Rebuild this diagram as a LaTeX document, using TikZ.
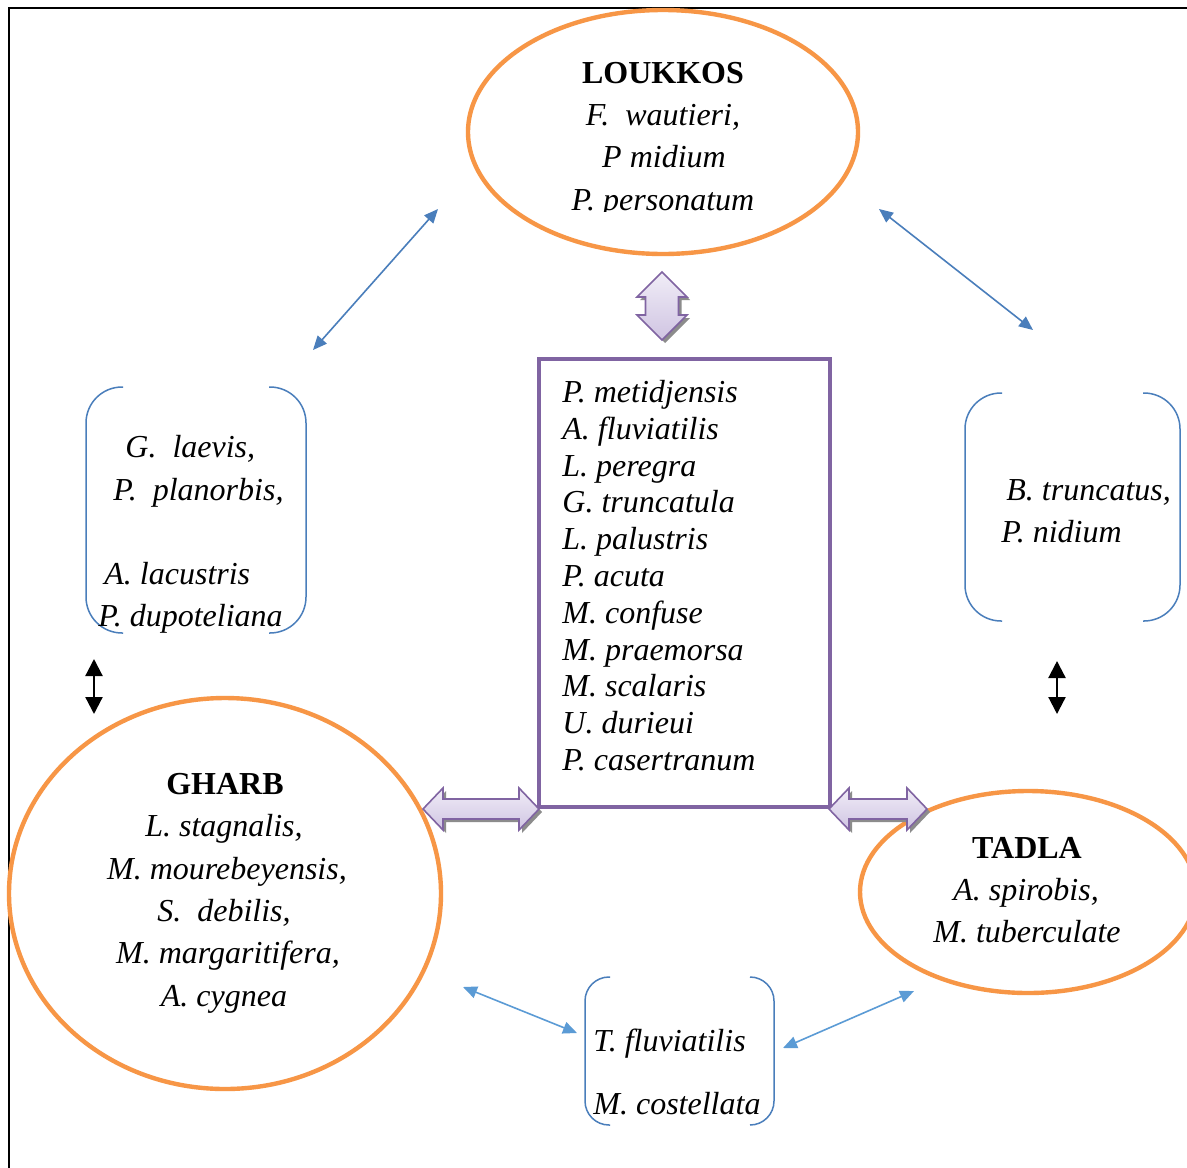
\documentclass[tikz,border=0pt]{standalone}
\usepackage{fontspec}
\setmainfont{Liberation Serif}
\usetikzlibrary{shapes.geometric,arrows.meta}
\definecolor{orng}{HTML}{F79646}
\definecolor{purp}{HTML}{8064A2}
\definecolor{lavA}{HTML}{F1EDF7}
\definecolor{lavB}{HTML}{CFC4E2}
\definecolor{blu}{HTML}{4A7EBB}
\definecolor{bluL}{HTML}{5B9BD5}
\begin{document}
\begin{tikzpicture}[x=0.5pt,y=-0.5pt,
  region/.style={ellipse,draw=orng,line width=2.2pt,inner sep=0pt},
  sp/.style={font=\frenchspacing\fontsize{16}{18.4}\selectfont\itshape,inner sep=0pt},
  ttl/.style={font=\fontsize{16}{18.4}\selectfont\bfseries,inner sep=0pt},
  brk/.style={draw=blu,line width=0.75pt},
  link/.style={draw=blu,line width=0.8pt,{Triangle[length=7pt,width=6pt]}-{Triangle[length=7pt,width=6pt]}},
  linkL/.style={draw=bluL,line width=0.8pt,{Triangle[length=7pt,width=6pt]}-{Triangle[length=7pt,width=6pt]}},
  blk/.style={draw=black,line width=1.1pt,{Triangle[length=8.5pt,width=8.5pt]}-{Triangle[length=8.5pt,width=8.5pt]}},
  barrow/.style={draw=purp,line width=0.8pt,top color=lavA,bottom color=lavB},
  bshadow/.style={fill=black!45,draw=none}
]
\useasboundingbox (0,0) rectangle (1187,1167);
\clip (0,0) rectangle (1187,1167);
\fill[white] (0,0) rectangle (1187,1167);

% frame
\draw[line width=1pt] (9,1170) -- (9,8) -- (1190,8);

% regions
\node[region,minimum width=195pt,minimum height=122pt] (lou) at (663,132) {};
\node[region,minimum width=216pt,minimum height=195.5pt] (gha) at (225,893.5) {};
\node[region,minimum width=168pt,minimum height=101pt] (tad) at (1028,892) {};

% LOUKKOS text
\node[ttl,anchor=base] (louT) at (663,83) {LOUKKOS};
\node[sp,anchor=base] (lou1) at (663,125) {F.\ \ wautieri,};
\node[sp,anchor=base] (lou2) at (664,167) {P midium};
\begin{scope}
\clip (400,0) rectangle (900,211.5);
\node[sp,anchor=base] (lou3) at (663,210) {P. personatum};
\end{scope}

% GHARB text
\node[ttl,anchor=base] (ghaT) at (225,794) {GHARB};
\node[sp,anchor=base] (gha1) at (224,836) {L. stagnalis,};
\node[sp,anchor=base] (gha2) at (227,879) {M. mourebeyensis,};
\node[sp,anchor=base] (gha3) at (224,921) {S.\ \ debilis,};
\node[sp,anchor=base] (gha4) at (228,963) {M. margaritifera,};
\node[sp,anchor=base] (gha5) at (224,1006) {A. cygnea};

% TADLA text
\node[ttl,anchor=base] (tadT) at (1027,858) {TADLA};
\node[sp,anchor=base] (tad1) at (1026,900) {A. spirobis,};
\node[sp,anchor=base] (tad2) at (1027,942) {M. tuberculate};

% central box
\node[draw=purp,line width=2pt,minimum width=145.5pt,minimum height=224pt,inner sep=0pt] (mid) at (684.5,583) {};
\foreach \t [count=\i from 0] in {P. metidjensis,A. fluviatilis,L. peregra,G. truncatula,L. palustris,P. acuta,M. confuse,M. praemorsa,M. scalaris,U. durieui,P. casertranum}
  \node[sp,anchor=base west] (mid\i) at (562,{402.5+36.8*\i}) {\t};

% left bracket box
\draw[brk,rounded corners=18pt] (123,387) -- (86,387) -- (86,633) -- (123,633);
\draw[brk,rounded corners=18pt] (269,387) -- (306,387) -- (306,633) -- (269,633);
\node[sp,anchor=base west] (lb1) at (125,457) {G.\ \ laevis,};
\node[sp,anchor=base west] (lb2) at (113,500) {P.\ \ planorbis,};
\node[sp,anchor=base west] (lb3) at (104,584) {A. lacustris};
\node[sp,anchor=base west] (lb4) at (98,626) {P. dupoteliana};

% right bracket box
\draw[brk,rounded corners=18pt] (1002,393) -- (965,393) -- (965,621) -- (1002,621);
\draw[brk,rounded corners=18pt] (1143,393) -- (1180,393) -- (1180,621) -- (1143,621);
\node[sp,anchor=base west] (rb1) at (1006,500) {B. truncatus,};
\node[sp,anchor=base west] (rb2) at (1001,542) {P. nidium};

% bottom bracket box
\draw[brk,rounded corners=12pt] (610,977) -- (585,977) -- (585,1125) -- (610,1125);
\draw[brk,rounded corners=12pt] (750,977) -- (774,977) -- (774,1125) -- (750,1125);
\node[sp,anchor=base west] (bb1) at (593,1051) {T. fluviatilis};
\node[sp,anchor=base west] (bb2) at (593,1114) {M. costellata};

% blue links
\coordinate (a1) at (313,350); \coordinate (a2) at (438,209);
\coordinate (b1) at (879,209); \coordinate (b2) at (1033,330);
\coordinate (c1) at (463,987); \coordinate (c2) at (577,1033);
\coordinate (d1) at (783,1048); \coordinate (d2) at (914,991);
\draw[link] (a1) -- (a2);
\draw[link] (b1) -- (b2);
\draw[linkL] (c1) -- (c2);
\draw[linkL] (d1) -- (d2);

% black double arrows
\coordinate (e1) at (94,659); \coordinate (e2) at (94,714);
\coordinate (f1) at (1057,661); \coordinate (f2) at (1057,714);
\draw[blk] (e1) -- (e2);
\draw[blk] (f1) -- (f2);

% purple block arrows
\begin{scope}[xshift=1.5pt,yshift=-1.5pt]
\path[bshadow] (662,272) -- (687,297) -- (678.5,297) -- (678.5,315) -- (687,315) -- (662,340) -- (637,315) -- (645.5,315) -- (645.5,297) -- (637,297) -- cycle;
\path[bshadow] (423,809) -- (443,788) -- (443,799) -- (519,799) -- (519,788) -- (539,809) -- (519,830) -- (519,819) -- (443,819) -- (443,830) -- cycle;
\path[bshadow] (829,809) -- (849,788) -- (849,799) -- (907,799) -- (907,788) -- (927,809) -- (907,830) -- (907,819) -- (849,819) -- (849,830) -- cycle;
\end{scope}
\path[barrow] (662,272) -- (687,297) -- (678.5,297) -- (678.5,315) -- (687,315) -- (662,340) -- (637,315) -- (645.5,315) -- (645.5,297) -- (637,297) -- cycle;
\path[barrow] (423,809) -- (443,788) -- (443,799) -- (519,799) -- (519,788) -- (539,809) -- (519,830) -- (519,819) -- (443,819) -- (443,830) -- cycle;
\path[barrow] (829,809) -- (849,788) -- (849,799) -- (907,799) -- (907,788) -- (927,809) -- (907,830) -- (907,819) -- (849,819) -- (849,830) -- cycle;
\end{tikzpicture}
\end{document}
